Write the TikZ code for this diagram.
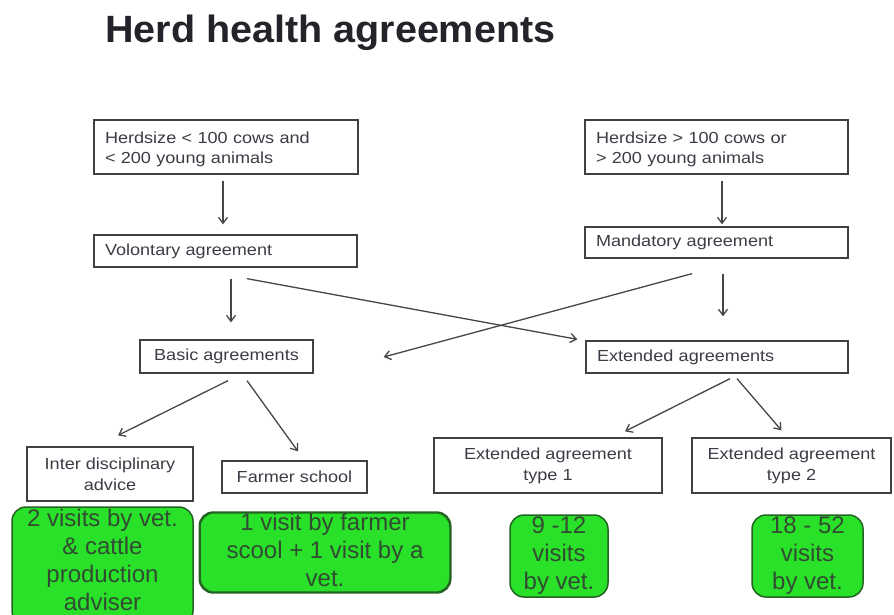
\documentclass[tikz,border=0pt]{standalone}
\usepackage{fontspec}
\setmainfont{Liberation Sans}
\newfontfamily\boxfont[FakeStretch=1.13]{Liberation Sans}
\newfontfamily\titlefont[FakeStretch=1.04]{Liberation Sans}
\usetikzlibrary{arrows.meta,calc}
\definecolor{boxline}{RGB}{64,64,64}
\definecolor{boxtext}{RGB}{60,60,70}
\definecolor{titlecol}{RGB}{35,35,42}
\definecolor{gfill}{RGB}{40,225,40}
\definecolor{gline}{RGB}{35,100,35}
\definecolor{gtext}{RGB}{50,75,50}
\definecolor{arrowcol}{RGB}{70,70,70}
\begin{document}
\begin{tikzpicture}[x=1pt,y=-1pt,
  box/.style={draw=boxline, line width=1.3pt, inner ysep=0pt, inner xsep=0pt, text=boxtext, font=\boxfont\fontsize{16}{21}\selectfont},
  lbox/.style={box, align=left, inner xsep=11pt, font=\boxfont\fontsize{16}{20}\selectfont},
  cbox/.style={box, align=center},
  gbox/.style={draw=gline, fill=gfill, line width=1.5pt, rounded corners=14pt, inner sep=0pt, align=center, text=gtext, font=\fontsize{24}{28}\selectfont},
  conn/.style={draw=arrowcol, line width=1.3pt, -{Straight Barb[length=6pt,width=9pt]}},
]
\useasboundingbox (0,0) rectangle (894,614);
\fill[white] (0,0) rectangle (894,614);
\clip (0,0) rectangle (894,614);

\node[anchor=base west, font=\titlefont\bfseries\fontsize{38}{46}\selectfont, text=titlecol, inner sep=0pt] (title) at (105,42) {Herd health agreements};

% first row
\node[lbox, text width=242pt, minimum height=54pt] (hA) at (226,147) {\rule{0pt}{17pt}Herdsize < 100 cows and\\< 200 young animals};
\node[lbox, text width=241pt, minimum height=54pt] (hB) at (716.5,147) {\rule{0pt}{17pt}Herdsize > 100 cows or\\> 200 young animals};
% second row
\node[lbox, text width=241pt, minimum height=32pt] (vol) at (225.5,251) {Volontary agreement};
\node[lbox, text width=241pt, minimum height=31pt] (mand) at (716.5,242.5) {Mandatory agreement};
% third row
\node[cbox, minimum width=173pt, minimum height=33pt] (basic) at (226.5,356.5) {Basic agreements};
\node[lbox, text width=240pt, minimum height=32pt] (ext) at (717,357) {Extended agreements};
% fourth row
\node[cbox, minimum width=166pt, minimum height=54pt] (inter) at (110,474) {Inter disciplinary\\advice};
\node[cbox, minimum width=145pt, minimum height=32pt] (farmer) at (294.5,477) {Farmer school};
\node[cbox, minimum width=228pt, minimum height=55pt] (ext1) at (548,465.5) {Extended agreement\\type 1};
\node[cbox, minimum width=199pt, minimum height=55pt] (ext2) at (791.5,465.5) {Extended agreement\\type 2};

% green boxes
\node[gbox, minimum width=181pt, minimum height=118pt] (g1) at (102.5,566) {2 visits by vet.\\\& cattle\\production\\adviser\rule[-12pt]{0pt}{12pt}};
\node[gbox, minimum width=250pt, minimum height=75pt] (g2) at (325,552.5) {1 visit by farmer\\scool + 1 visit by a\\vet.\rule[-6pt]{0pt}{6pt}};
\draw[draw=gline, line width=1.5pt, rounded corners=14pt] (g2.north west) rectangle (g2.south east);
\node[gbox, minimum width=98pt, minimum height=82pt] (g3) at (559,556) {9 -12\\visits\\by vet.};
\node[gbox, minimum width=111pt, minimum height=82pt] (g4) at (807.5,556) {18 - 52\\visits\\by vet.};

% connectors
\draw[conn] ($(hA.south)+(-3,6)$) -- ($(vol.north)+(-2.5,-10)$);
\draw[conn] ($(hB.south)+(5.5,6)$) -- ($(mand.north)+(5.5,-2)$);
\draw[conn] ($(vol.south)+(5.5,11)$) -- ($(basic.north)+(4.5,-17)$);
\draw[conn] ($(vol.south)+(21.5,11)$) -- ($(ext.north west)+(-8,-1)$);
\draw[conn] ($(mand.south)+(-24.5,15)$) -- ($(basic.east)+(70,0.5)$);
\draw[conn] ($(mand.south)+(6.5,15)$) -- ($(ext.north)+(6,-24)$);
\draw[conn] ($(basic.south)+(1.5,7)$) -- ($(inter.north)+(8,-11)$);
\draw[conn] ($(basic.south)+(20.5,7)$) -- ($(farmer.north)+(3.5,-9)$);
\draw[conn] ($(ext.south)+(13,5)$) -- ($(ext1.north)+(77,-6)$);
\draw[conn] ($(ext.south)+(20,5)$) -- ($(ext2.north)+(-10,-7)$);
\end{tikzpicture}
\end{document}
